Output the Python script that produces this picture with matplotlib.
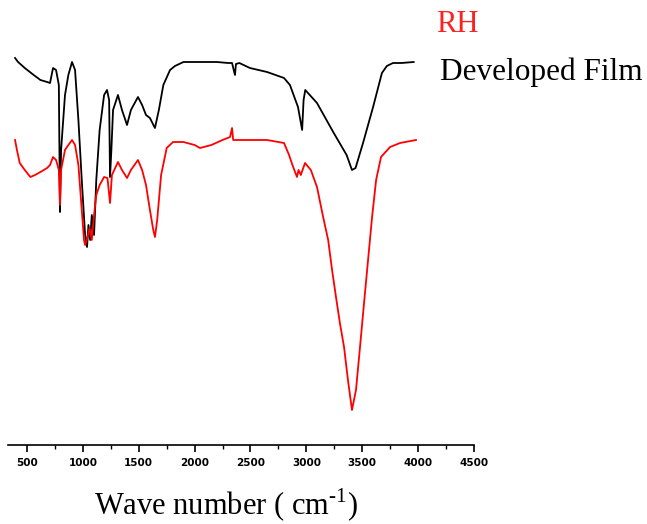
import numpy as np
import matplotlib.pyplot as plt
from matplotlib.ticker import MultipleLocator

# wave numbers (cm-1) and transmittance (a.u.)
film_w = [393, 420, 480, 560, 620, 680, 706, 733, 760, 785, 795, 805, 840, 870, 903, 930,
          960, 990, 1020, 1037, 1050, 1065, 1080, 1100, 1120, 1150, 1190, 1216, 1235, 1243,
          1255, 1270, 1314, 1350, 1395, 1430, 1493, 1530, 1565, 1600, 1645, 1680, 1720, 1780,
          1824, 1900, 2000, 2100, 2200, 2300, 2335, 2350, 2361, 2370, 2400, 2495, 2648, 2800,
          2853, 2925, 2962, 2975, 2990, 3095, 3240, 3360, 3408, 3440, 3507, 3597, 3676, 3720,
          3775, 3850, 3960]
film_px = [58, 62, 68, 75, 80, 82, 83, 68, 70, 85, 212, 150, 95, 75, 62, 70,
           120, 180, 235, 247, 225, 240, 215, 235, 180, 130, 95, 90, 100, 177,
           150, 110, 95, 110, 125, 110, 97, 105, 115, 118, 128, 110, 85, 70,
           66, 62, 62, 62, 62, 63, 63, 70, 75, 64, 63, 68, 72, 78,
           85, 107, 130, 100, 90, 103, 132, 155, 170, 168, 143, 107, 73, 66,
           63, 63, 62]

rh_w = [393, 410, 435, 480, 530, 572, 620, 680, 706, 733, 760, 785, 795, 805, 840, 870,
        903, 930, 960, 990, 1010, 1020, 1040, 1060, 1080, 1100, 1120, 1150, 1190, 1220,
        1243, 1260, 1314, 1350, 1395, 1430, 1493, 1530, 1565, 1600, 1630, 1645, 1665, 1700,
        1750, 1807, 1900, 2000, 2048, 2150, 2250, 2317, 2335, 2345, 2400, 2500, 2648, 2800,
        2845, 2875, 2916, 2930, 2950, 2988, 3040, 3095, 3150, 3195, 3230, 3265, 3300, 3337,
        3372, 3408, 3444, 3480, 3516, 3552, 3588, 3624, 3668, 3749, 3838, 3981]
rh_px = [140, 150, 163, 170, 177, 175, 172, 168, 165, 157, 160, 170, 205, 170, 150, 145,
         140, 145, 165, 210, 240, 245, 238, 228, 240, 215, 195, 185, 177, 178,
         203, 175, 162, 170, 178, 170, 160, 170, 185, 210, 230, 237, 220, 175,
         148, 142, 142, 145, 148, 145, 140, 137, 128, 140, 140, 140, 140, 143,
         155, 165, 177, 170, 175, 163, 170, 187, 217, 240, 270, 297, 323, 347,
         380, 410, 390, 347, 303, 260, 217, 180, 157, 147, 143, 140]

film_T = (450 - np.array(film_px)) / 4
rh_T = (450 - np.array(rh_px)) / 4

plt.rcParams['mathtext.fontset'] = 'custom'
plt.rcParams['mathtext.rm'] = 'Liberation Serif'

fig = plt.figure(figsize=(6.47, 5.24), dpi=100)
ax = fig.add_axes([8/647, 1 - 445/524, (474 - 8)/647, (445 - 40)/524])

ax.plot(film_w, film_T, color='black', lw=1.3)
ax.plot(rh_w, rh_T, color='#ff0000', lw=1.3)

ax.set_xlim(330, 4500)
ax.set_ylim(1.25, 102.5)
for s in ['top', 'right', 'left']:
    ax.spines[s].set_visible(False)
ax.spines['bottom'].set_linewidth(1.2)
ax.set_yticks([])
ax.xaxis.set_minor_locator(MultipleLocator(250))
ax.set_xticks(np.arange(500, 4501, 500))
ax.tick_params(axis='x', which='major', length=5, width=1.2, direction='out', pad=4,
               labelsize=7.5)
ax.tick_params(axis='x', which='minor', length=3, width=1.0, direction='out')
for lab in ax.get_xticklabels():
    lab.set_fontweight('bold')

fig.text(436/647, 1 - 25/524, 'RH', color='#ff2020', family='Liberation Serif',
         fontsize=22, va='center', ha='left')
fig.text(440/647, 1 - 72/524, 'Developed Film', color='black', family='Liberation Serif',
         fontsize=22.5, va='center', ha='left')
fig.text(226/647, 1 - 505/524, r'Wave number ( cm$^{\text{-}1}$)', color='black',
         family='Liberation Serif', fontsize=22, va='center', ha='center')

fig.savefig('out.png', dpi=100)
